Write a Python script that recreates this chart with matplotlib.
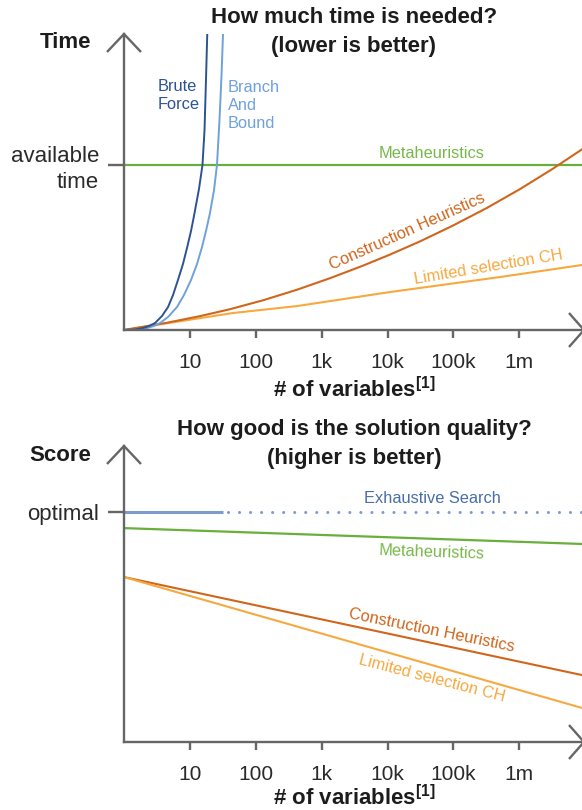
import numpy as np
import matplotlib
matplotlib.use('Agg')
import matplotlib.pyplot as plt

plt.rcParams['font.family'] = ['Liberation Sans', 'DejaVu Sans']
plt.rcParams['mathtext.fontset'] = 'custom'
plt.rcParams['mathtext.rm'] = 'Liberation Sans'
plt.rcParams['mathtext.bf'] = 'Liberation Sans:bold'

W, H = 582, 810

# ---------------- data ----------------
tick_vals = [10, 100, 1e3, 1e4, 1e5, 1e6]
tick_labels = ['10', '100', '1k', '10k', '100k', '1m']
x_max_exp = 6.95  # right end of the x axis (log10 of # of variables)

# Top chart: time needed (1.0 = available time), x as log10(# of variables)
brute_exp = [0, 0.167, 0.288, 0.379, 0.470, 0.577, 0.668, 0.744, 0.819, 0.895, 0.956,
             1.017, 1.062, 1.138, 1.191, 1.222, 1.244, 1.263]
brute_time = [0, 0.003, 0.012, 0.024, 0.042, 0.085, 0.139, 0.212, 0.303, 0.400, 0.497,
              0.600, 0.691, 0.855, 1.0, 1.212, 1.515, 1.788]

bnb_exp = [0, 0.182, 0.349, 0.455, 0.546, 0.668, 0.804, 0.910, 1.017, 1.108, 1.184,
           1.244, 1.305, 1.366, 1.411, 1.449, 1.480, 1.502]
bnb_time = [0, 0.003, 0.012, 0.024, 0.042, 0.079, 0.139, 0.212, 0.303, 0.400, 0.503,
            0.600, 0.709, 0.848, 1.0, 1.273, 1.545, 1.788]

meta_time_exp = [0, 6.95]
meta_time = [1.0, 1.0]

ch_exp = [0, 0.653, 1.153, 1.609, 2.109, 2.625, 3.126, 3.627, 4.036, 4.492, 4.992,
          5.508, 6.009, 6.510, 6.950]
ch_time = [0, 0.044, 0.084, 0.126, 0.180, 0.244, 0.314, 0.390, 0.457, 0.537, 0.633,
           0.740, 0.854, 0.978, 1.095]

lsch_exp = [0, 1.654, 2.625, 4.036, 5.706, 6.950]
lsch_time = [0, 0.103, 0.145, 0.230, 0.321, 0.394]

# Bottom chart: score (1.0 = optimal)
exh_solid_exp = [0, 1.50]
exh_solid_score = [1.0, 1.0]
exh_dotted_exp = [1.58, 6.95]
exh_dotted_score = [1.0, 1.0]

meta_score_exp = [0, 6.95]
meta_score = [0.930, 0.861]

ch_score_exp = [0, 6.95]
ch_score = [0.717, 0.291]

lsch_score_exp = [0, 6.95]
lsch_score = [0.717, 0.148]

# ---------------- style ----------------
AX = '#666666'
C_BRUTE = '#2d5393'
C_BNB = '#6fa1db'
C_META = '#6aae3c'
C_META_T = '#78b84a'
C_CH = '#d0661c'
C_LS = '#f6a93f'
C_EXH = '#7d9bcd'
C_EXH_T = '#4a6ea8'
TXT = '#1c1c1c'
LW_AX = 1.7


def px(x, y):
    return (x / W, 1 - y / H)


def v(e):
    return 10 ** np.asarray(e, dtype=float)


fig = plt.figure(figsize=(W / 100, H / 100), dpi=100)


def make_axes(y_axis_px, y_top_px, unit_px):
    l, b = px(124, y_axis_px)
    ax = fig.add_axes([l, b, 458 / W, (y_axis_px - y_top_px) / H])
    ax.set_xscale('log')
    ax.set_xlim(1, 10 ** x_max_exp)
    ax.set_ylim(0, (y_axis_px - y_top_px) / unit_px)
    ax.set_facecolor('none')
    for s in ['top', 'right']:
        ax.spines[s].set_visible(False)
    for s in ['left', 'bottom']:
        ax.spines[s].set_color(AX)
        ax.spines[s].set_linewidth(LW_AX)
    ax.set_xticks(tick_vals)
    ax.set_xticklabels(tick_labels)
    ax.xaxis.set_minor_locator(matplotlib.ticker.NullLocator())
    ax.tick_params(axis='x', length=5.8, width=LW_AX, color=AX, pad=11,
                   labelsize=15, labelcolor='#2a2a2a')
    ax.tick_params(axis='y', length=11.5, width=LW_AX, color=AX, pad=6.5,
                   labelsize=16, labelcolor='#2a2a2a')
    # arrow heads
    for pts in ([(107, y_top_px + 18), (124, y_top_px), (141, y_top_px + 18)],
                [(569, y_axis_px - 17), (584, y_axis_px), (569, y_axis_px + 17)]):
        xs, ys = zip(*[px(*p) for p in pts])
        fig.add_artist(plt.Line2D(xs, ys, color=AX, lw=LW_AX, transform=fig.transFigure,
                                  solid_joinstyle='miter', solid_capstyle='butt'))
    return ax


# ---------------- top chart ----------------
ax1 = make_axes(330, 34, 165)
ax1.set_yticks([1.0])
ax1.set_yticklabels(['available\ntime'], linespacing=1.25)

ax1.plot(v(meta_time_exp), meta_time, color=C_META, lw=1.6)
ax1.plot(v(lsch_exp), lsch_time, color=C_LS, lw=1.5)
ax1.plot(v(ch_exp), ch_time, color=C_CH, lw=1.5, solid_joinstyle='round')
ax1.plot(v(bnb_exp), bnb_time, color=C_BNB, lw=1.4, solid_joinstyle='round')
ax1.plot(v(brute_exp), brute_time, color=C_BRUTE, lw=1.4, solid_joinstyle='round')

lab = dict(fontsize=11.8)
ax1.text(10 ** 0.516, 1.421, 'Brute\nForce', color=C_BRUTE, ha='left', va='center',
         linespacing=1.25, **lab)
ax1.text(10 ** 1.578, 1.358, 'Branch\nAnd\nBound', color=C_BNB, ha='left', va='center',
         linespacing=1.25, **lab)
ax1.text(10 ** 4.674, 1.067, 'Metaheuristics', color=C_META_T, ha='center', va='center', **lab)
ax1.text(10 ** 4.294, 0.594, 'Construction Heuristics', color=C_CH, ha='center', va='center',
         rotation=24, rotation_mode='anchor', **lab)
ax1.text(10 ** 5.524, 0.379, 'Limited selection CH', color=C_LS, ha='center', va='center',
         rotation=9.5, rotation_mode='anchor', **lab)

# ---------------- bottom chart ----------------
ax2 = make_axes(742, 446, 230)
ax2.set_yticks([1.0])
ax2.set_yticklabels(['optimal'])

ax2.plot(v(exh_solid_exp), exh_solid_score, color=C_EXH, lw=2.2, solid_capstyle='butt')
ax2.plot(v(exh_dotted_exp), exh_dotted_score, color=C_EXH, lw=2.2,
         linestyle=(0, (0.01, 3.6)), dash_capstyle='round')
ax2.plot(v(meta_score_exp), meta_score, color=C_META, lw=1.6)
ax2.plot(v(ch_score_exp), ch_score, color=C_CH, lw=1.5)
ax2.plot(v(lsch_score_exp), lsch_score, color=C_LS, lw=1.5)

ax2.text(10 ** 4.674, 1.057, 'Exhaustive Search', color=C_EXH_T, ha='center', va='center', **lab)
ax2.text(10 ** 4.674, 0.826, 'Metaheuristics', color=C_META_T, ha='center', va='center',
         rotation=-2, rotation_mode='anchor', **lab)
ax2.text(10 ** 4.674, 0.483, 'Construction Heuristics', color=C_CH, ha='center', va='center',
         rotation=-11.5, rotation_mode='anchor', **lab)
ax2.text(10 ** 4.674, 0.278, 'Limited selection CH', color=C_LS, ha='center', va='center',
         rotation=-14.5, rotation_mode='anchor', **lab)

# ---------------- titles & labels ----------------
title_kw = dict(fontsize=16, fontweight='bold', color=TXT, ha='center', va='center',
                linespacing=1.45)
fig.text(*px(354, 32), 'How much time is needed?\n(lower is better)', **title_kw)
fig.text(*px(354, 444), 'How good is the solution quality?\n(higher is better)', **title_kw)

fig.text(*px(91, 43), 'Time', fontsize=16, fontweight='bold', color=TXT, ha='right', va='center')
fig.text(*px(91, 455), 'Score', fontsize=16, fontweight='bold', color=TXT, ha='right', va='center')

xl = '# of variables' + r'$^{\mathbf{[1]}}$'
fig.text(*px(354, 397), xl, fontsize=16, fontweight='bold', color=TXT, ha='center',
         va='baseline')
fig.text(*px(354, 805), xl, fontsize=16, fontweight='bold', color=TXT, ha='center',
         va='baseline')

fig.savefig('out.png', dpi=100)
